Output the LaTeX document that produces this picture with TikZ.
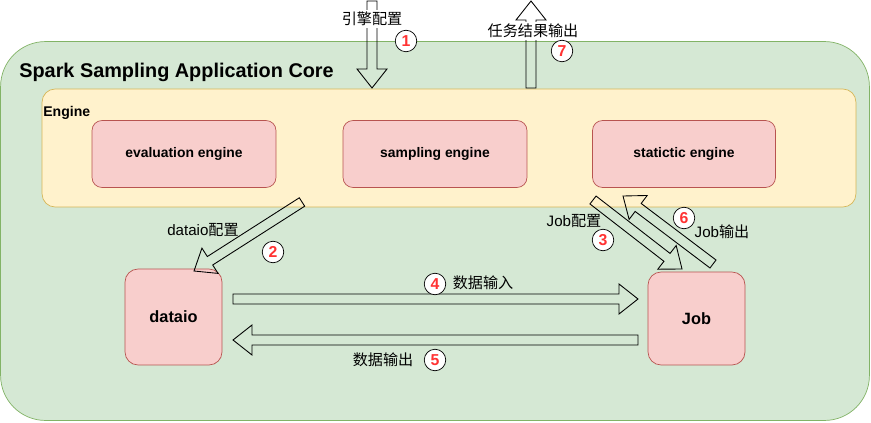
\documentclass[tikz,border=0pt]{standalone}
\usepackage{fontspec}
\setmainfont{Liberation Sans}
\newfontfamily\cjk{Noto Sans CJK SC}
\usetikzlibrary{calc}
\definecolor{coregreen}{HTML}{D5E8D4}
\definecolor{coregreenline}{HTML}{82B366}
\definecolor{engyellow}{HTML}{FFF2CC}
\definecolor{engyellowline}{HTML}{D6B656}
\definecolor{modred}{HTML}{F8CECC}
\definecolor{modredline}{HTML}{B85450}
\definecolor{numred}{HTML}{FF3333}

% hollow block arrow: #1 tail, #2 tip
\newcommand{\blockarrow}[2]{%
  \coordinate (ba-h) at ($(#2)!0.38cm!(#1)$);
  \draw[blockline] ($(#1)!0.1cm!90:(#2)$) -- ($(ba-h)!0.1cm!90:(#2)$)
    -- ($(ba-h)!0.3cm!90:(#2)$) -- (#2) -- ($(ba-h)!0.3cm!-90:(#2)$)
    -- ($(ba-h)!0.1cm!-90:(#2)$) -- ($(#1)!0.1cm!-90:(#2)$) -- cycle;}

\begin{document}
\begin{tikzpicture}[x=0.02cm, y=-0.02cm,
  blockline/.style={draw=black, line width=0.5pt, line join=miter},
  modbox/.style={draw=modredline, fill=modred, rounded corners=0.2cm, inner sep=0pt,
    font=\fontsize{7.9}{9}\selectfont\bfseries},
  bigbox/.style={modbox, rounded corners=0.26cm, font=\fontsize{9.3}{11}\selectfont\bfseries},
  lbl/.style={font=\fontsize{8.6}{10}\selectfont, inner sep=0pt},
  numcircle/.style={circle, draw=black, fill=white, minimum size=0.43cm, inner sep=0pt,
    text=numred, font=\fontsize{9}{10}\selectfont\bfseries}]

\useasboundingbox (0,0) rectangle (871,422);

% Containers
\node[draw=coregreenline, fill=coregreen, rounded corners=0.9cm, minimum width=17.38cm,
  minimum height=7.58cm, inner sep=0pt] (core) at (435,231) {};
\node[anchor=west, font=\fontsize{11.3}{13}\selectfont\bfseries, inner sep=0pt] (coretitle)
  at (19,72) {Spark Sampling Application Core};
\node[draw=engyellowline, fill=engyellow, rounded corners=0.26cm, minimum width=16.28cm,
  minimum height=2.36cm, inner sep=0pt] (engine) at (449,148) {};
\node[anchor=west, font=\fontsize{8}{9}\selectfont\bfseries, inner sep=0pt] (enginetitle)
  at (43,113) {Engine};

% Modules
\node[modbox, minimum width=3.68cm, minimum height=1.34cm] (evaleng) at (184,154) {evaluation engine};
\node[modbox, minimum width=3.68cm, minimum height=1.34cm] (sampeng) at (435,154) {sampling engine};
\node[modbox, minimum width=3.66cm, minimum height=1.34cm] (stateng) at (684,154) {statictic engine};
\node[bigbox, minimum width=1.94cm, minimum height=1.92cm] (dataio) at (173.5,317) {dataio};
\node[bigbox, minimum width=1.94cm, minimum height=1.86cm] (job) at (696.5,318.5) {Job};

% Arrow ends
\coordinate (cfg-in) at (372,1);
\coordinate (cfg-eng) at (372,88);
\coordinate (res-eng) at (531,88);
\coordinate (res-out) at (531,1);
\coordinate (dio-tail) at (302,202);
\coordinate (dio-tip) at (194,271);
\coordinate (jobcfg-tail) at (593,200);
\coordinate (jobcfg-tip) at (682,269);
\coordinate (jobout-tail) at (713,264);
\coordinate (jobout-tip) at (623,196);
\coordinate (din-tail) at (233,299);
\coordinate (din-tip) at (638,299);
\coordinate (dout-tail) at (638,340);
\coordinate (dout-tip) at (233,340);

\blockarrow{cfg-in}{cfg-eng}
\blockarrow{res-eng}{res-out}
\blockarrow{dio-tail}{dio-tip}
\blockarrow{jobcfg-tail}{jobcfg-tip}
\blockarrow{jobout-tail}{jobout-tip}
\blockarrow{din-tail}{din-tip}
\blockarrow{dout-tail}{dout-tip}

% Labels
\node[lbl, fill=white, inner sep=1pt] (lbl-engcfg) at (372,19) {\cjk 引擎配置};
\node[lbl, fill=white, inner sep=1pt] (lbl-result) at (533,31) {\cjk 任务结果输出};
\node[lbl] (lbl-diocfg) at (203,230) {dataio{\cjk 配置}};
\node[lbl] (lbl-jobcfg) at (574,221) {Job{\cjk 配置}};
\node[lbl] (lbl-jobout) at (722,232) {Job{\cjk 输出}};
\node[lbl] (lbl-din) at (483,283) {\cjk 数据输入};
\node[lbl] (lbl-dout) at (383,360) {\cjk 数据输出};

% Step numbers
\node[numcircle] (n1) at (406,41) {1};
\node[numcircle] (n2) at (273,252) {2};
\node[numcircle] (n3) at (603,240) {3};
\node[numcircle] (n4) at (435,284) {4};
\node[numcircle] (n5) at (435,360) {5};
\node[numcircle] (n6) at (684,218) {6};
\node[numcircle] (n7) at (562,51) {7};

\end{tikzpicture}
\end{document}
